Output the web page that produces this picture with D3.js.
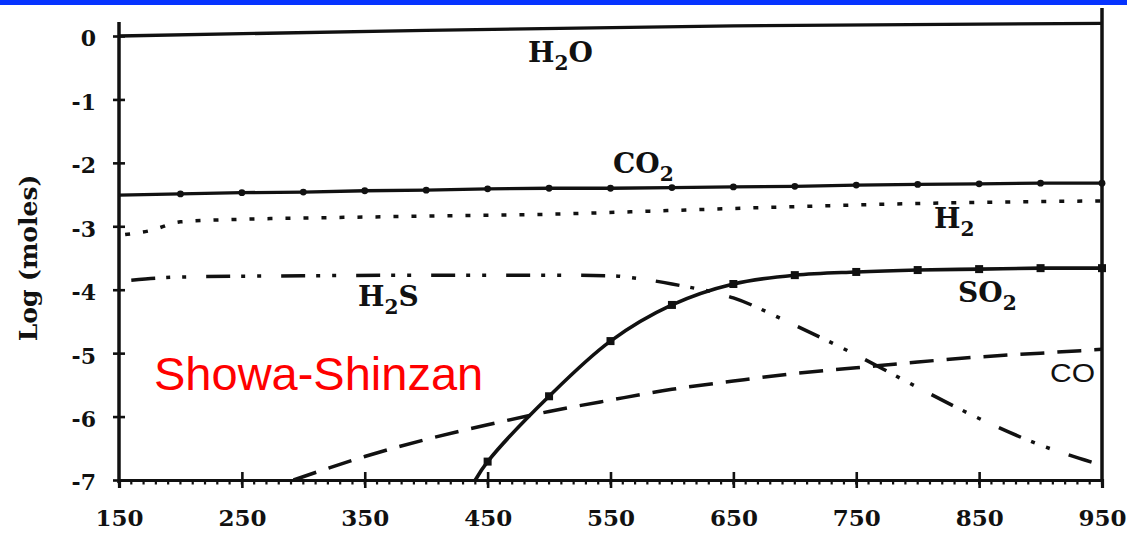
<!DOCTYPE html>
<html>
<head>
<meta charset="utf-8">
<script src="https://cdn.jsdelivr.net/npm/d3@7/dist/d3.min.js"></script>
<style>
  html, body { margin: 0; padding: 0; background: #fff; }
  svg { display: block; }
  .serif { font-family: "DejaVu Serif", "Liberation Serif", serif; font-weight: bold; }
</style>
</head>
<body>
<svg id="chart" width="1127" height="534"></svg>
<script>
// Temperature axis (°C) and log-moles axis
const xTicks = [150, 250, 350, 450, 550, 650, 750, 850, 950];
const yTicks = [0, -1, -2, -3, -4, -5, -6, -7];

// Gas species: temperature grid and log(moles)
const h2oT = [150, 400, 650, 950];
const h2oV = [0.0, 0.09, 0.16, 0.2];

const co2T = [150, 200, 250, 300, 350, 400, 450, 500, 550, 600, 650, 700, 750, 800, 850, 900, 950];
const co2V = [-2.51, -2.49, -2.47, -2.46, -2.44, -2.43, -2.41, -2.40, -2.40, -2.39, -2.38, -2.37, -2.35, -2.34, -2.33, -2.32, -2.32];

const h2T = [155, 175, 200, 250, 300, 400, 500, 600, 700, 800, 900, 950];
const h2V = [-3.13, -3.07, -2.93, -2.89, -2.87, -2.84, -2.81, -2.75, -2.69, -2.64, -2.61, -2.60];

const h2sT = [160, 200, 300, 400, 500, 550, 575, 600, 650, 700, 750, 800, 850, 900, 945];
const h2sV = [-3.85, -3.80, -3.78, -3.77, -3.77, -3.78, -3.83, -3.91, -4.13, -4.56, -5.03, -5.54, -6.03, -6.45, -6.74];

const so2T = [440, 450, 500, 550, 600, 650, 700, 750, 800, 850, 900, 950];
const so2V = [-7.0, -6.71, -5.68, -4.81, -4.24, -3.91, -3.77, -3.72, -3.69, -3.675, -3.66, -3.66];

const coT = [292, 350, 400, 450, 500, 550, 600, 650, 700, 750, 800, 850, 900, 950];
const coV = [-7.0, -6.63, -6.36, -6.13, -5.92, -5.74, -5.57, -5.44, -5.32, -5.23, -5.14, -5.06, -5.00, -4.94];

const svg = d3.select("#chart");

// top banner
svg.append("rect").attr("x", 0).attr("y", 0).attr("width", 1127).attr("height", 5).attr("fill", "#0633ff");

const x = d3.scaleLinear().domain([150, 950]).range([119, 1102]);
const y = d3.scaleLinear().domain([-7, 0]).range([480, 36]);

const ink = "#111";

// axes frame
svg.append("line").attr("x1", x(150)).attr("x2", x(150)).attr("y1", 22).attr("y2", y(-7) + 3)
  .attr("stroke", ink).attr("stroke-width", 3.5);
svg.append("line").attr("x1", x(950)).attr("x2", x(950)).attr("y1", 8).attr("y2", y(-7) + 2)
  .attr("stroke", ink).attr("stroke-width", 3.5);

// minor teeth along the temperature axis
const minor = d3.range(150, 951, 10);
svg.append("g").selectAll("line").data(minor).join("line")
  .attr("x1", d => x(d)).attr("x2", d => x(d))
  .attr("y1", y(-7)).attr("y2", y(-7) + 4.5)
  .attr("stroke", ink).attr("stroke-width", 2.2);

// bottom axis
const xAxis = svg.append("g").attr("transform", `translate(0,${y(-7)})`)
  .call(d3.axisBottom(x).tickValues(xTicks).tickSize(8).tickFormat(d3.format("d")));
xAxis.select(".domain").attr("stroke", ink).attr("stroke-width", 3.2);
xAxis.selectAll(".tick line").attr("y1", d => (d === 150 || d === 950) ? 0 : -8).attr("y2", d => (d === 150 || d === 950) ? 0 : 8)
  .attr("stroke", ink).attr("stroke-width", 2.6);
xAxis.selectAll(".tick text").attr("class", "serif").attr("y", 0).attr("dy", 46)
  .attr("font-size", 23).attr("fill", ink);

// left axis
const yAxis = svg.append("g").attr("transform", `translate(${x(150)},0)`)
  .call(d3.axisLeft(y).tickValues(yTicks).tickSize(6).tickFormat(d3.format("d")));
yAxis.select(".domain").remove();
yAxis.selectAll(".tick line").attr("x1", -6).attr("x2", 6).attr("stroke", ink).attr("stroke-width", 2.6);
yAxis.selectAll(".tick text").attr("class", "serif").attr("x", -23).attr("dy", "0.45em")
  .attr("font-size", 22).attr("fill", ink)
  .text(d => d === 0 ? "0" : "-" + Math.abs(d));

// axis title
svg.append("text").attr("class", "serif")
  .attr("transform", `translate(37,258) rotate(-90)`)
  .attr("text-anchor", "middle").attr("font-size", 25).attr("fill", ink)
  .text("Log (moles)");

const line = (curve) => d3.line().x(d => x(d[0])).y(d => y(d[1])).curve(curve);
const zip = (a, b) => a.map((t, i) => [t, b[i]]);

// H2O
svg.append("path").attr("d", line(d3.curveLinear)(zip(h2oT, h2oV)))
  .attr("fill", "none").attr("stroke", ink).attr("stroke-width", 3.3);

// CO2 with dot markers
svg.append("path").attr("d", line(d3.curveLinear)(zip(co2T, co2V)))
  .attr("fill", "none").attr("stroke", ink).attr("stroke-width", 3.3);
svg.append("g").selectAll("circle").data(zip(co2T, co2V).filter(d => d[0] > 150)).join("circle")
  .attr("cx", d => x(d[0])).attr("cy", d => y(d[1])).attr("r", 3.4).attr("fill", ink);

// H2 dotted
svg.append("path").attr("d", line(d3.curveMonotoneX)(zip(h2T, h2V)))
  .attr("fill", "none").attr("stroke", ink).attr("stroke-width", 3.5)
  .attr("stroke-dasharray", "5 13");

// H2S dash-dot-dot
svg.append("path").attr("d", line(d3.curveMonotoneX)(zip(h2sT, h2sV)))
  .attr("fill", "none").attr("stroke", ink).attr("stroke-width", 3.5)
  .attr("stroke-dasharray", "24 11 4 12 4 20");

// CO dashed
svg.append("path").attr("d", line(d3.curveMonotoneX)(zip(coT, coV)))
  .attr("fill", "none").attr("stroke", ink).attr("stroke-width", 3.5)
  .attr("stroke-dasharray", "24 13");

// SO2 with square markers
svg.append("path").attr("d", line(d3.curveCatmullRom.alpha(0.5))(zip(so2T, so2V)))
  .attr("fill", "none").attr("stroke", ink).attr("stroke-width", 3.6);
svg.append("g").selectAll("rect").data(zip(so2T, so2V).filter(d => d[0] >= 450)).join("rect")
  .attr("x", d => x(d[0]) - 4).attr("y", d => y(d[1]) - 4).attr("width", 8).attr("height", 8).attr("fill", ink);

// species labels
function chem(px, py, parts, size) {
  const t = svg.append("text").attr("class", "serif").attr("x", px).attr("y", py)
    .attr("font-size", size).attr("fill", ink);
  parts.forEach(p => {
    if (p.sub) {
      t.append("tspan").attr("font-size", size * 0.72).attr("dy", size * 0.28).text(p.s);
    } else {
      t.append("tspan").attr("dy", p.after ? -size * 0.28 : 0).text(p.s);
    }
  });
}
chem(528, 62, [{ s: "H" }, { s: "2", sub: true }, { s: "O", after: true }], 28);
chem(613, 173, [{ s: "CO" }, { s: "2", sub: true }], 28);
chem(934, 228, [{ s: "H" }, { s: "2", sub: true }], 28);
chem(358, 306, [{ s: "H" }, { s: "2", sub: true }, { s: "S", after: true }], 28);
chem(958, 302, [{ s: "SO" }, { s: "2", sub: true }], 28);

svg.append("text").attr("x", 1050).attr("y", 382)
  .attr("font-family", "'Liberation Sans', Arial, sans-serif").attr("font-size", 25)
  .attr("textLength", 45).attr("lengthAdjust", "spacingAndGlyphs")
  .attr("fill", ink).text("CO");

// site name
svg.append("text").attr("x", 154).attr("y", 390)
  .attr("font-family", "'Liberation Sans', Arial, sans-serif").attr("font-size", 47)
  .attr("fill", "#ff0000").text("Showa-Shinzan");
</script>
</body>
</html>
